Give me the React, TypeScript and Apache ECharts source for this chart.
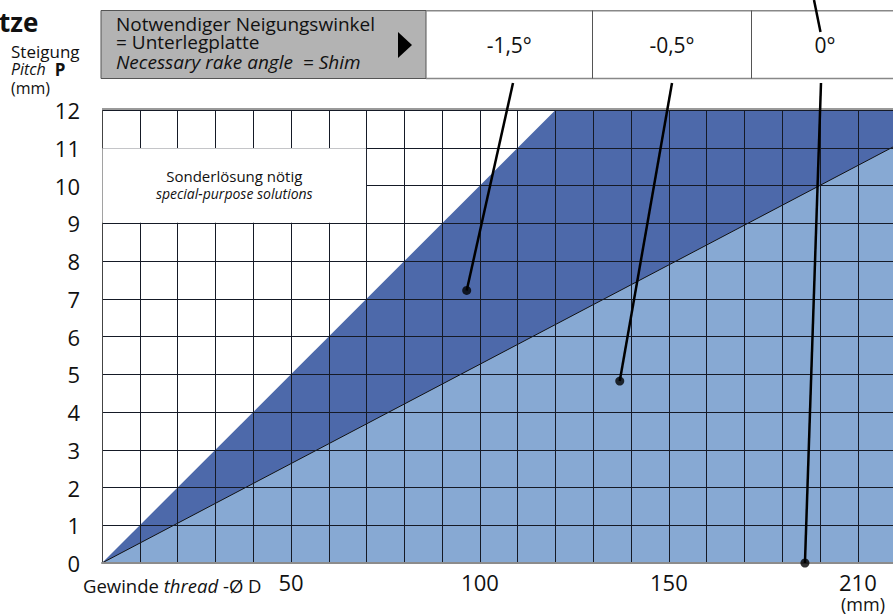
import React, { useEffect, useRef } from "react";
import * as echarts from "echarts";

// ---- data ----
const diameterTicks = [50, 100, 150, 200];
const diameterTickLabels = ["50", "100", "150", "210"];
const diameterMax = 209.3;
const pitchMax = 12;
const darkBoundaryD = [0, 120, 209.3];
const darkBoundaryP = [0, 12, 12];
const lightBoundaryD = [0, 209.3];
const lightBoundaryP = [0, 11.02];
const angleLabels = ["-1,5°", "-0,5°", "0°"];
const pointerD = [96.5, 137, 186];
const pointerP = [7.22, 4.82, 0];
const specialBoxD = [0, 70];
const specialBoxP = [9, 11];

const FONT = "'Open Sans', 'Noto Sans', sans-serif";
const DARK = "#4d69aa";
const LIGHT = "#87a9d3";
const GRIDLINE = "#151a26";

export default function App() {
  const ref = useRef<HTMLDivElement>(null);
  useEffect(() => {
    if (!ref.current) return;
    const chart = echarts.init(ref.current, null, { renderer: "svg" });
    const option: any = {
      animation: false,
      backgroundColor: "#fff",
      grid: { left: 102, top: 110, right: 0, bottom: 51 },
      xAxis: {
        type: "value",
        min: 0,
        max: diameterMax,
        interval: 10,
        z: 5,
        axisLine: { show: true, onZero: false, lineStyle: { color: "#8c8c8c", width: 2 } },
        axisTick: { show: false },
        splitLine: { show: true, lineStyle: { color: GRIDLINE, width: 1 } },
        axisLabel: {
          margin: 9,
          fontSize: 22,
          lineHeight: 20,
          color: "#111",
          fontFamily: FONT,
          showMaxLabel: false,
          formatter: (v: number) => {
            const i = diameterTicks.indexOf(Math.round(v));
            return i >= 0 ? diameterTickLabels[i] : "";
          },
        },
      },
      yAxis: {
        type: "value",
        min: 0,
        max: pitchMax,
        interval: 1,
        z: 5,
        axisLine: { show: true, lineStyle: { color: "#444", width: 1 } },
        axisTick: { show: false },
        splitLine: { show: true, lineStyle: { color: GRIDLINE, width: 1 } },
        axisLabel: { margin: 22, fontSize: 22, color: "#111", fontFamily: FONT },
      },
      series: [
        {
          type: "line",
          data: darkBoundaryD.map((d, i) => [d, darkBoundaryP[i]]),
          showSymbol: false,
          lineStyle: { opacity: 0, width: 0 },
          areaStyle: { color: DARK, opacity: 1 },
          z: 1,
          silent: true,
        },
        {
          type: "line",
          data: lightBoundaryD.map((d, i) => [d, lightBoundaryP[i]]),
          showSymbol: false,
          lineStyle: { color: "#111", width: 1 },
          areaStyle: { color: LIGHT, opacity: 1 },
          z: 2,
          silent: true,
        },
        {
          type: "scatter",
          data: pointerD.map((d, i) => [d, pointerP[i]]),
          symbolSize: 9,
          itemStyle: { color: "#000" },
          z: 30,
          clip: false,
        },
      ],
    };
    chart.setOption(option);

    const px = (d: number, p: number) => chart.convertToPixel({ gridIndex: 0 }, [d, p]) as number[];
    const b0 = px(specialBoxD[0], specialBoxP[1]);
    const b1 = px(specialBoxD[1], specialBoxP[0]);
    const topLeft = px(0, pitchMax);
    const anchorsX = [513, 672, 821];
    const cellX = [426, 592.5, 751.5];
    const cellRight = [592.5, 751.5, 900];

    const graphics: any[] = [];
    // special-purpose box
    graphics.push({
      type: "rect",
      z: 50,
      shape: { x: b0[0] + 0.5, y: b0[1] + 0.5, width: b1[0] - b0[0] - 1, height: b1[1] - b0[1] - 1 },
      style: { fill: "#fff" },
    });
    graphics.push({
      type: "text",
      z: 51,
      x: (b0[0] + b1[0]) / 2,
      y: (b0[1] + b1[1]) / 2 - 19,
      style: {
        text: "Sonderlösung nötig\n{i|special-purpose solutions}",
        fontSize: 15,
        lineHeight: 18,
        fontFamily: FONT,
        fill: "#111",
        align: "center",
        verticalAlign: "top",
        rich: { i: { fontSize: 14, lineHeight: 18, fontStyle: "italic", fontFamily: FONT, fill: "#111" } },
      },
    });
    // top border of plot
    graphics.push({
      type: "line",
      z: 52,
      shape: { x1: topLeft[0], y1: topLeft[1] - 1, x2: 893, y2: topLeft[1] - 1 },
      style: { stroke: "#9a9a9a", lineWidth: 2 },
    });
    // table
    graphics.push({
      type: "rect",
      z: 40,
      shape: { x: 101, y: 10.5, width: 325, height: 68 },
      style: { fill: "#b3b3b3", stroke: "#555", lineWidth: 1 },
    });
    graphics.push({ type: "line", z: 40, shape: { x1: 426, y1: 10.7, x2: 893, y2: 10.7 }, style: { stroke: "#888", lineWidth: 1.5 } });
    graphics.push({ type: "line", z: 40, shape: { x1: 426, y1: 78.5, x2: 893, y2: 78.5 }, style: { stroke: "#888", lineWidth: 1.5 } });
    [592.5, 751.5].forEach((x) =>
      graphics.push({ type: "line", z: 40, shape: { x1: x, y1: 10.5, x2: x, y2: 78.5 }, style: { stroke: "#555", lineWidth: 1 } })
    );
    graphics.push({
      type: "text",
      z: 41,
      x: 116,
      y: 14.5,
      style: {
        text: "Notwendiger Neigungswinkel\n= Unterlegplatte\n{i|Necessary rake angle  = Shim}",
        fontSize: 19,
        lineHeight: 18,
        fontFamily: FONT,
        fill: "#111",
        verticalAlign: "top",
        rich: { i: { fontSize: 19, lineHeight: 23, fontStyle: "italic", fontFamily: FONT, fill: "#111" } },
      },
    });
    graphics.push({
      type: "polygon",
      z: 41,
      shape: { points: [[398, 32], [412, 45], [398, 58]] },
      style: { fill: "#000" },
    });
    angleLabels.forEach((a, i) => {
      const cx = i === 2 ? 825 : (cellX[i] + cellRight[i]) / 2;
      graphics.push({
        type: "text",
        z: 41,
        x: cx,
        y: 45,
        style: { text: a, fontSize: 21, fontFamily: FONT, fill: "#111", align: "center", verticalAlign: "middle" },
      });
    });
    // leader lines
    pointerD.forEach((d, i) => {
      const p = px(d, pointerP[i]);
      graphics.push({
        type: "line",
        z: 60,
        shape: { x1: anchorsX[i], y1: 83, x2: p[0], y2: p[1] },
        style: { stroke: "#000", lineWidth: 2.5 },
      });
    });
    graphics.push({
      type: "line",
      z: 60,
      shape: { x1: 814, y1: 0, x2: 820.5, y2: 32 },
      style: { stroke: "#000", lineWidth: 2.5 },
    });
    // titles
    graphics.push({
      type: "text",
      z: 41,
      x: -1,
      y: 22,
      style: { text: "tze", fontSize: 26, lineHeight: 26, fontWeight: "bold", fontFamily: FONT, fill: "#111", verticalAlign: "middle" },
    });
    graphics.push({
      type: "text",
      z: 41,
      x: 11,
      y: 42,
      style: {
        text: "Steigung\n{i|Pitch}  {b|P}\n{n|(mm)}",
        fontSize: 17,
        lineHeight: 18,
        fontFamily: FONT,
        fill: "#111",
        verticalAlign: "top",
        rich: {
          i: { fontSize: 16, lineHeight: 18, fontStyle: "italic", fontFamily: FONT, fill: "#111" },
          b: { fontSize: 17, lineHeight: 18, fontWeight: "bold", fontFamily: FONT, fill: "#111" },
          n: { fontSize: 16, lineHeight: 19, fontFamily: FONT, fill: "#111" },
        },
      },
    });
    graphics.push({
      type: "text",
      z: 41,
      x: 83,
      y: 585,
      style: {
        text: "Gewinde {i|thread} -Ø D",
        fontSize: 18.5,
        fontFamily: FONT,
        fill: "#111",
        verticalAlign: "middle",
        rich: { i: { fontSize: 18.5, fontStyle: "italic", fontFamily: FONT, fill: "#111" } },
      },
    });
    graphics.push({
      type: "text",
      z: 41,
      x: 863,
      y: 603.5,
      style: { text: "(mm)", fontSize: 18, lineHeight: 17, fontFamily: FONT, fill: "#111", align: "center", verticalAlign: "middle" },
    });
    chart.setOption({ graphic: { elements: graphics } });
    return () => chart.dispose();
  }, []);
  return <div ref={ref} style={{ position: "absolute", left: 0, top: 0, width: 893, height: 614 }} />;
}
